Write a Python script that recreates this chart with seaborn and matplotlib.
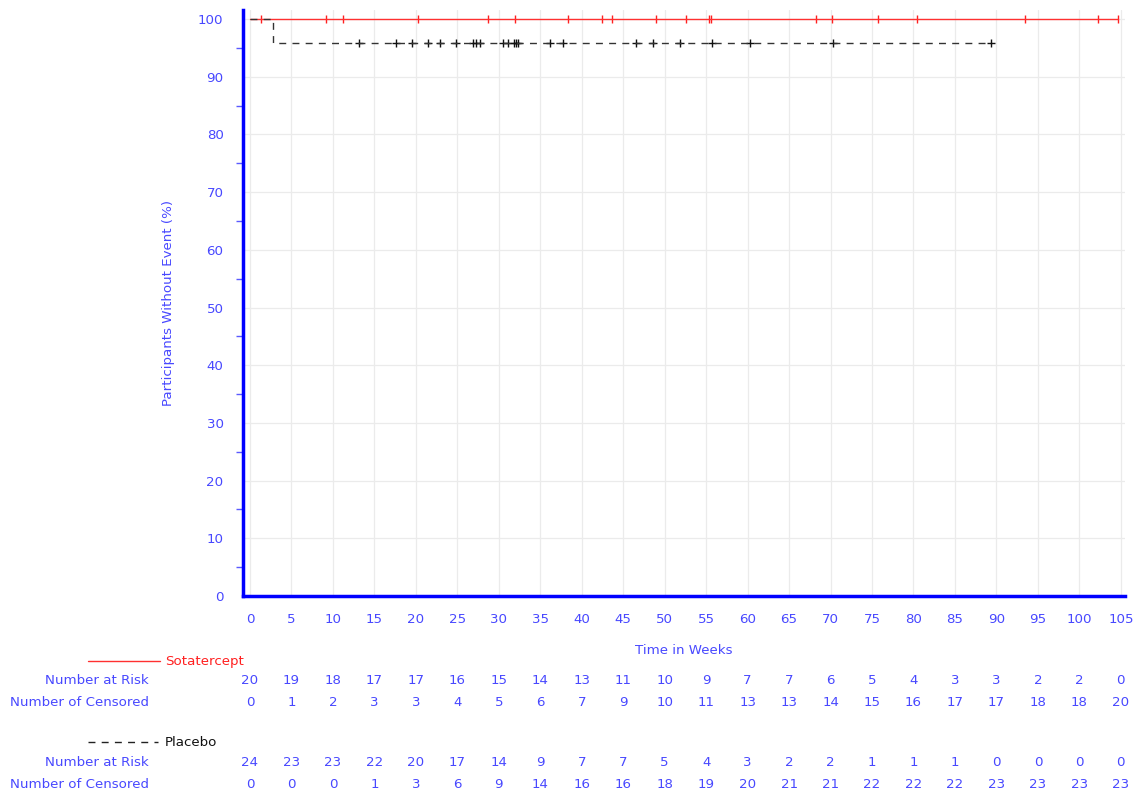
import numpy as np
import pandas as pd
import matplotlib
matplotlib.use("Agg")
import matplotlib.pyplot as plt
import matplotlib.transforms as mtransforms
import seaborn as sns

# ---- data ----
time_ticks = [0, 5, 10, 15, 20, 25, 30, 35, 40, 45, 50, 55, 60, 65, 70, 75, 80, 85, 90, 95, 100, 105]

sota_step_t = [0.0, 104.7]
sota_step_s = [100.0, 100.0]
sota_censor_t = [1.3, 9.2, 11.2, 20.2, 28.7, 32.0, 38.3, 42.5, 43.7, 48.9, 52.6,
                 55.3, 55.6, 68.2, 70.2, 75.7, 80.4, 93.5, 102.2, 104.7]
sota_censor_s = [100.0] * len(sota_censor_t)

plac_step_t = [0.0, 2.8, 89.4]
plac_step_s = [100.0, 95.83, 95.83]
plac_censor_t = [13.1, 17.6, 19.5, 21.5, 22.9, 24.8, 26.9, 27.2, 27.7, 30.5, 31.1,
                 31.8, 32.1, 32.3, 36.2, 37.7, 46.6, 48.6, 51.8, 55.7, 60.3, 70.3, 89.4]
plac_censor_s = [95.83] * len(plac_censor_t)

sota_risk = [20, 19, 18, 17, 17, 16, 15, 14, 13, 11, 10, 9, 7, 7, 6, 5, 4, 3, 3, 2, 2, 0]
sota_cens = [0, 1, 2, 3, 3, 4, 5, 6, 7, 9, 10, 11, 13, 13, 14, 15, 16, 17, 17, 18, 18, 20]
plac_risk = [24, 23, 23, 22, 20, 17, 14, 9, 7, 7, 5, 4, 3, 2, 2, 1, 1, 1, 0, 0, 0, 0]
plac_cens = [0, 0, 0, 1, 3, 6, 9, 14, 16, 16, 18, 19, 20, 21, 21, 22, 22, 22, 23, 23, 23, 23]

y_ticks = [0, 10, 20, 30, 40, 50, 60, 70, 80, 90, 100]

# ---- style ----
sns.set_style("white")
plt.rcParams['font.family'] = ['DejaVu Sans']
TXT = '#4848ff'
TICKC = '#5a5aff'
FS = 9.6

W, H = 1138, 794
fig = plt.figure(figsize=(W / 100, H / 100), dpi=100)
ax = fig.add_axes([243 / W, 1 - 596 / H, (1125 - 243) / W, (596 - 10) / H])

# grid
ax.set_xlim(-0.84, 105.5)
ax.set_ylim(0, 101.56)
ax.set_xticks(time_ticks)
ax.set_yticks(y_ticks)
ax.set_yticks([v + 5 for v in y_ticks[:-1]], minor=True)
ax.grid(True, which='major', color='#ebebeb', linewidth=0.9)
ax.set_axisbelow(True)

sota_df = pd.DataFrame({'t': sota_step_t, 's': sota_step_s})
plac_df = pd.DataFrame({'t': plac_step_t, 's': plac_step_s})
sota_c = pd.DataFrame({'t': sota_censor_t, 's': sota_censor_s})
plac_c = pd.DataFrame({'t': plac_censor_t, 's': plac_censor_s})

sns.lineplot(data=sota_df, x='t', y='s', ax=ax, color='#ff3030', linewidth=1.0,
             drawstyle='steps-post', estimator=None, sort=False)
sns.lineplot(data=plac_df, x='t', y='s', ax=ax, color='#333333', linewidth=1.0,
             drawstyle='steps-post', estimator=None, sort=False, dashes=False,
             linestyle=(0, (5, 4.5)))
sns.scatterplot(data=sota_c, x='t', y='s', ax=ax, marker='|', color='#ff2020',
                s=40, linewidth=1.0)
sns.scatterplot(data=plac_c, x='t', y='s', ax=ax, marker='+', color='#111111',
                s=28, linewidth=1.0)

# spines
for side in ['top', 'right']:
    ax.spines[side].set_visible(False)
for side in ['left', 'bottom']:
    ax.spines[side].set_color('#0000ff')
    ax.spines[side].set_linewidth(2.5)

ax.tick_params(axis='x', which='major', direction='out', length=5, width=1,
               color=TICKC, labelcolor=TXT, labelsize=FS, pad=7)
ax.tick_params(axis='y', which='major', direction='out', length=11, width=1,
               color=TICKC, labelcolor=TXT, labelsize=FS, pad=3)
ax.tick_params(axis='y', which='minor', direction='out', length=5, width=1,
               color=TICKC, left=True)
ax.set_xticklabels([str(v) for v in time_ticks])
ax.set_yticklabels([str(v) for v in y_ticks])

ax.set_xlabel('Time in Weeks', color=TXT, fontsize=FS, labelpad=13)
ax.set_ylabel('Participants Without Event (%)', color=TXT, fontsize=FS)
ax.yaxis.set_label_coords((175 - 243) / (1125 - 243), (596 - 303) / (596 - 10))

# ---- at-risk table ----
trans = mtransforms.blended_transform_factory(ax.transData, fig.transFigure)

def fy(py):
    return 1 - py / H

rows = [
    (681, 'Number at Risk', sota_risk),
    (703, 'Number of Censored', sota_cens),
    (763, 'Number at Risk', plac_risk),
    (785, 'Number of Censored', plac_cens),
]
for py, label, vals in rows:
    fig.text(149 / W, fy(py), label, ha='right', va='center', color=TXT, fontsize=FS)
    for t, v in zip(time_ticks, vals):
        ax.text(t, fy(py), str(v), transform=trans, ha='center', va='center',
                color=TXT, fontsize=FS, clip_on=False)

# legend entries
fig.add_artist(plt.Line2D([88 / W, 160 / W], [fy(661), fy(661)], color='#ff3030',
                          linewidth=1.0, transform=fig.transFigure))
fig.text(165 / W, fy(661), 'Sotatercept', ha='left', va='center', color='#ff2020', fontsize=FS)
fig.add_artist(plt.Line2D([88 / W, 158 / W], [fy(742), fy(742)], color='#222222',
                          linewidth=1.0, linestyle=(0, (5, 4.5)), transform=fig.transFigure))
fig.text(165 / W, fy(742), 'Placebo', ha='left', va='center', color='#111111', fontsize=FS)

fig.savefig('out.png', dpi=100)
